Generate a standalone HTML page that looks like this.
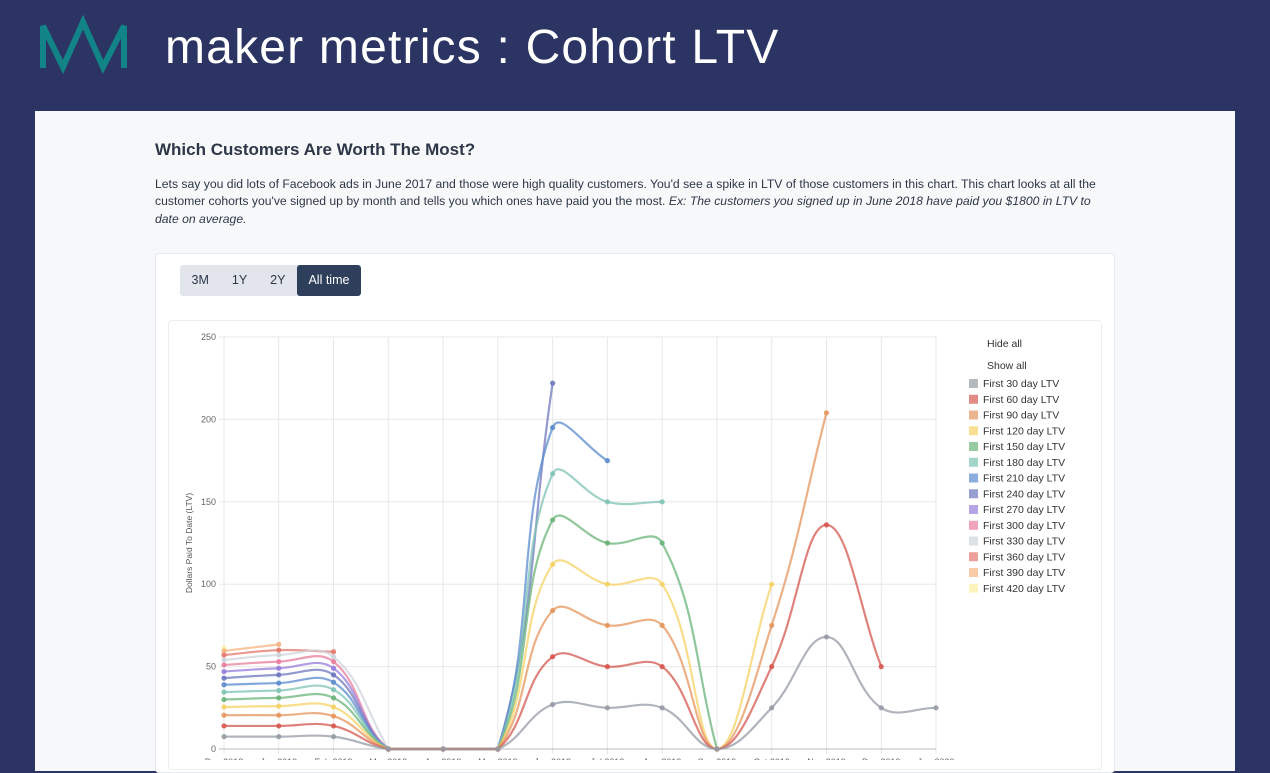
<!DOCTYPE html>
<html><head><meta charset="utf-8">
<style>
*{box-sizing:border-box;margin:0;padding:0}
body{width:1270px;height:760px;overflow:hidden;background:#2b3462;font-family:"Liberation Sans",sans-serif;position:relative}
#header{position:absolute;left:0;top:0;width:1270px;height:111px}
#title{position:absolute;left:165px;top:20px;font-size:48px;color:#fff;letter-spacing:1.2px;white-space:nowrap}
#panel{position:absolute;left:35px;top:111px;width:1200px;height:660px;background:#f7f8fa}
#h2{position:absolute;left:155px;top:140px;font-size:17px;font-weight:bold;color:#2d3748}
#desc{position:absolute;left:155px;top:176px;width:960px;font-size:12.2px;line-height:17.3px;color:#2d3748}
#card{position:absolute;left:155px;top:253px;width:960px;height:520px;background:#fff;border:1px solid #e6e9ee;border-radius:4px}
.btns{position:absolute;left:180px;top:265px;height:31px;display:flex;border-radius:3px;overflow:hidden;background:#e2e6ec}
.btn{font-size:12.5px;color:#2d3748;padding:0 11.5px;line-height:31px}
.btn.active{background:#2e3f5c;color:#fff;border-radius:3px}
#chartbox{position:absolute;left:168px;top:320px;width:934px;height:450px;border:1px solid #eceef1;border-radius:4px}
svg text{font-family:"Liberation Sans",sans-serif}
</style></head><body>
<div id="header">
<svg width="140" height="90" style="position:absolute;left:0;top:0">
<polyline points="43,68 43,26 63,67 83,22 103,67 124,26 124,68" fill="none" stroke="#128487" stroke-width="6" stroke-linejoin="miter"/>
</svg>
<div id="title">maker metrics : Cohort LTV</div>
</div>
<div id="panel"></div>
<div id="h2">Which Customers Are Worth The Most?</div>
<div id="desc">Lets say you did lots of Facebook ads in June 2017 and those were high quality customers. You'd see a spike in LTV of those customers in this chart. This chart looks at all the customer cohorts you've signed up by month and tells you which ones have paid you the most. <i>Ex: The customers you signed up in June 2018 have paid you $1800 in LTV to date on average.</i></div>
<div id="card"></div>
<div class="btns">
<div class="btn">3M</div>
<div class="btn">1Y</div>
<div class="btn">2Y</div>
<div class="btn active">All time</div>
</div>
<div id="chartbox"></div>
<svg id="chart" width="1270" height="760" style="position:absolute;left:0;top:0"></svg>
<script>
const categories=["Dec 2018","Jan 2019","Feb 2019","Mar 2019","Apr 2019","May 2019","Jun 2019","Jul 2019","Aug 2019","Sep 2019","Oct 2019","Nov 2019","Dec 2019","Jan 2020"];
const seriesNames=["First 30 day LTV","First 60 day LTV","First 90 day LTV","First 120 day LTV","First 150 day LTV","First 180 day LTV","First 210 day LTV","First 240 day LTV","First 270 day LTV","First 300 day LTV","First 330 day LTV","First 360 day LTV","First 390 day LTV","First 420 day LTV"];
const s30=[7.5,7.5,7.5,0,0,0,27,25,25,0,25,68,25,25];
const s60=[14,14,14,0,0,0,56,50,50,0,50,136,50];
const s90=[20.5,20.5,20,0,0,0,84,75,75,0,75,204];
const s120=[25.5,26,25.5,0,0,0,112,100,100,0,100];
const s150=[30,31,31,0,0,0,139,125,125,0];
const s180=[34.5,35.5,36,0,0,0,167,150,150];
const s210=[39,40,40.5,0,0,0,195,175];
const s240=[43,45,45,0,0,0,222];
const s270=[47,49,49,0,0,0];
const s300=[51,53,53,0,0];
const s330=[54,57,56,0];
const s360=[57,60,59];
const s390=[59.5,63.5];
const s420=[61];
const seriesValues=[s30,s60,s90,s120,s150,s180,s210,s240,s270,s300,s330,s360,s390,s420];
const yTicks=[0,50,100,150,200,250];
const colors=["150,155,165","214,88,80","230,150,95","245,210,100","105,180,120","125,195,180","90,140,205","110,120,190","150,125,220","232,125,155","205,212,220","228,120,110","245,180,130","252,240,160"];
const svg=document.getElementById('chart');const NS='http://www.w3.org/2000/svg';
const X0=224,X1=936,Y0=749,Y1=337,YMAX=250;
const xs=i=>X0+(X1-X0)*i/(categories.length-1);
const ys=v=>Y0-(Y0-Y1)*v/YMAX;
function mk(t,a,p){const e=document.createElementNS(NS,t);for(const k in a)e.setAttribute(k,a[k]);(p||svg).appendChild(e);return e;}
categories.forEach((c,i)=>{
const g=mk('line',{x1:xs(i),x2:xs(i),y1:Y1,y2:Y0+5,stroke:'#e8e8e8'});


const t=mk('text',{x:xs(i),y:Y0+16,'font-size':9,'text-anchor':'middle',fill:'#666'});t.textContent=c;


});
yTicks.forEach(v=>{
const g=mk('line',{x1:X0-5,x2:X1,y1:ys(v),y2:ys(v),stroke:v===0?'#bbb':'#e8e8e8'});


const t=mk('text',{x:X0-8,y:ys(v)+3,'font-size':9,'text-anchor':'end',fill:'#666'});t.textContent=v;


});
const yl=mk('text',{x:0,y:0,'font-size':8.5,fill:'#555','text-anchor':'middle',transform:'translate(192,543) rotate(-90)'});yl.textContent='Dollars Paid To Date (LTV)';


function cap(p){return [p[0],Math.min(Y0,Math.max(Y1-30,p[1]))];}
function path(pts){const T=0.4;let d='M'+pts[0][0]+','+pts[0][1];
for(let i=0;i<pts.length-1;i++){const p0=pts[Math.max(0,i-1)],p1=pts[i],p2=pts[i+1],p3=pts[Math.min(pts.length-1,i+2)];
const c1=cap(ctrl(p0,p1,p2,T)[1]),c2=cap(ctrl(p1,p2,p3,T)[0]);d+=' C'+c1[0]+','+c1[1]+' '+c2[0]+','+c2[1]+' '+p2[0]+','+p2[1];}return d;}
function ctrl(a,b,c,t){const d01=Math.hypot(b[0]-a[0],b[1]-a[1]),d12=Math.hypot(c[0]-b[0],c[1]-b[1]);let fa=d01/(d01+d12||1),fb=d12/(d01+d12||1);fa*=t;fb*=t;
return[[b[0]-fa*(c[0]-a[0]),b[1]-fa*(c[1]-a[1])],[b[0]+fb*(c[0]-a[0]),b[1]+fb*(c[1]-a[1])]];}
for(let s=seriesValues.length-1;s>=0;s--){const vals=seriesValues[s];const pts=vals.map((v,i)=>[xs(i),ys(v)]);const col=colors[s];
if(pts.length>1){const p=mk('path',{d:path(pts),fill:'none',stroke:'rgba('+col+',0.75)','stroke-width':2.2});

}
pts.forEach(q=>{const c=mk('circle',{cx:q[0],cy:q[1],r:2.6,fill:'rgba('+col+',0.9)'});

});}
const h=mk('text',{x:987,y:347,'font-size':10.5,fill:'#333'});h.textContent='Hide all';


const sa=mk('text',{x:987,y:369,'font-size':10.5,fill:'#333'});sa.textContent='Show all';


seriesNames.forEach((n,i)=>{const y=383+i*15.75;
const r=mk('rect',{x:969,y:y-4,width:9,height:9,fill:'rgba('+colors[i]+',0.7)'});


const t=mk('text',{x:983,y:y+4,'font-size':10.5,fill:'#333'});t.textContent=n;

});
</script>
</body></html>
